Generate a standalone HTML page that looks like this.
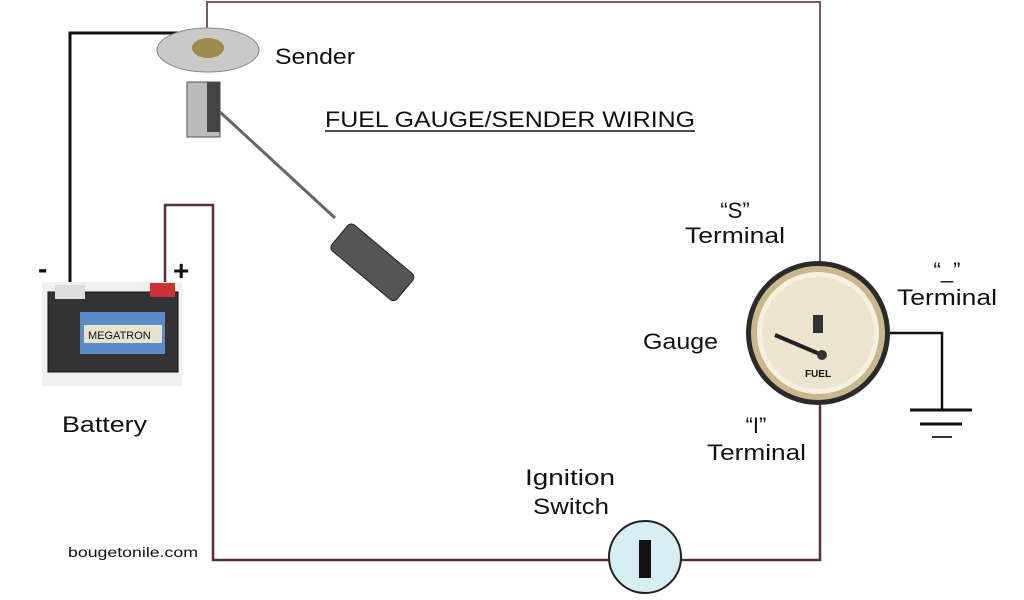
<!DOCTYPE html>
<html><head><style>
body{margin:0;background:#fff;}
svg{display:block}
text{font-family:"Liberation Sans",sans-serif;fill:#111;}
</style></head><body>
<svg width="1024" height="600" viewBox="0 0 1024 600">
<polyline points="207,40 207,2 820,2 820,265" fill="none" stroke="#7a5a5e" stroke-width="2"/>
<polyline points="820,405 820,560 213,560 213,205 165,205 165,288" fill="none" stroke="#5a2f33" stroke-width="2.5"/>
<polyline points="70,290 70,33 180,33" fill="none" stroke="#111" stroke-width="3"/>
<polyline points="890,333 942,333 942,410" fill="none" stroke="#111" stroke-width="2.5"/>
<line x1="910" y1="410" x2="972" y2="410" stroke="#111" stroke-width="3"/>
<line x1="920" y1="424" x2="962" y2="424" stroke="#111" stroke-width="3"/>
<line x1="932" y1="437" x2="952" y2="437" stroke="#333" stroke-width="2"/>
<rect x="187" y="82" width="33" height="55" fill="#bbb" stroke="#555"/>
<rect x="207" y="82" width="13" height="50" fill="#444"/>
<line x1="220" y1="112" x2="335" y2="218" stroke="#666" stroke-width="3"/>
<ellipse cx="208" cy="50" rx="51" ry="22" fill="#c9c9c9" stroke="#888"/>
<ellipse cx="208" cy="48" rx="16" ry="10" fill="#a08a50"/>
<g transform="rotate(40 372 262)"><rect x="330" y="245" width="85" height="34" rx="5" fill="#555" stroke="#222"/></g>
<rect x="42" y="282" width="140" height="104" fill="#f0f0f0"/>
<rect x="48" y="292" width="130" height="80" fill="#333" stroke="#111"/>
<rect x="80" y="312" width="85" height="42" fill="#5a8cc8"/>
<rect x="84" y="325" width="78" height="18" fill="#e6e3cf"/>
<text x="88" y="339" font-size="11" font-family="Liberation Serif">MEGATRON</text>
<rect x="55" y="285" width="30" height="14" fill="#ddd"/>
<rect x="150" y="283" width="25" height="14" fill="#c33"/>
<circle cx="818" cy="333" r="72" fill="#2a2a2a"/>
<circle cx="818" cy="333" r="64" fill="#f5f0e0" stroke="#c9b88a" stroke-width="6"/>
<circle cx="818" cy="333" r="56" fill="#ece4cc"/>
<line x1="775" y1="335" x2="822" y2="355" stroke="#222" stroke-width="4"/>
<circle cx="822" cy="355" r="5" fill="#333"/>
<rect x="813" y="315" width="10" height="18" fill="#333"/>
<text x="818" y="377" font-size="10" font-weight="bold" text-anchor="middle">FUEL</text>
<circle cx="645" cy="557" r="36" fill="#d6eef4" stroke="#222" stroke-width="2"/>
<rect x="639" y="540" width="12" height="38" fill="#111"/>
<text x="275" y="64" font-size="22" textLength="80" lengthAdjust="spacingAndGlyphs">Sender</text>
<text x="325" y="127" font-size="22" textLength="370" lengthAdjust="spacingAndGlyphs">FUEL GAUGE/SENDER WIRING</text>
<line x1="325" y1="131" x2="695" y2="131" stroke="#111" stroke-width="1.5"/>
<text x="735" y="218" font-size="22" text-anchor="middle">“S”</text>
<text x="685" y="243" font-size="22" textLength="100" lengthAdjust="spacingAndGlyphs">Terminal</text>
<text x="643" y="349" font-size="22" textLength="75" lengthAdjust="spacingAndGlyphs">Gauge</text>
<text x="947" y="278" font-size="22" text-anchor="middle">“_”</text>
<text x="897" y="305" font-size="22" textLength="100" lengthAdjust="spacingAndGlyphs">Terminal</text>
<text x="756" y="433" font-size="22" text-anchor="middle">“I”</text>
<text x="707" y="460" font-size="22" textLength="99" lengthAdjust="spacingAndGlyphs">Terminal</text>
<text x="62" y="432" font-size="22" textLength="85" lengthAdjust="spacingAndGlyphs">Battery</text>
<text x="525" y="485" font-size="22" textLength="90" lengthAdjust="spacingAndGlyphs">Ignition</text>
<text x="533" y="514" font-size="22" textLength="76" lengthAdjust="spacingAndGlyphs">Switch</text>
<text x="68" y="557" font-size="14" textLength="130" lengthAdjust="spacingAndGlyphs">bougetonile.com</text>
<text x="38" y="278" font-size="28" font-weight="bold">-</text>
<text x="173" y="280" font-size="28" font-weight="bold">+</text>
</svg>
</body></html>
